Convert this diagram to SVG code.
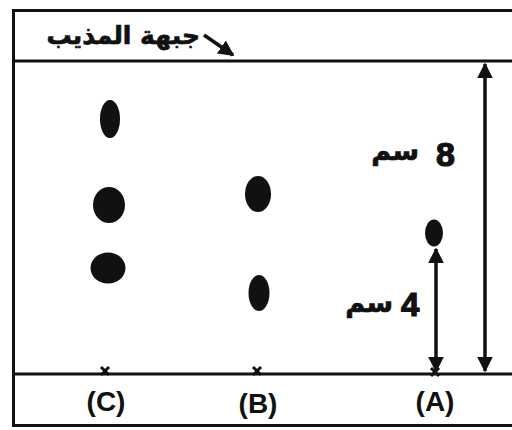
<svg xmlns="http://www.w3.org/2000/svg" width="512" height="430" viewBox="0 0 512 430">
<style>
.ln{stroke:#111;stroke-width:3;fill:none}
.ar{stroke:#111;stroke-width:3.5;fill:none}
.spot{fill:#111}
.lbl{font-family:"Liberation Sans",Arial,sans-serif;font-weight:bold;fill:#111}
.ar-t{font-family:"DejaVu Sans","Noto Sans",sans-serif;font-weight:bold;fill:#111;text-anchor:end}
.x{stroke:#111;stroke-width:3}
</style>
<defs>
<marker id="ah" viewBox="0 0 10 10" refX="9" refY="5" markerWidth="4.5" markerHeight="4.5" orient="auto-start-reverse" markerUnits="strokeWidth">
<path d="M0,0 L10,5 L0,10 Z" fill="#111"/>
</marker>
</defs>
<rect width="512" height="430" fill="#fff"/>
<g id="frame">
<rect class="ln" x="13.5" y="10.5" width="520" height="415"/>
<line class="ln" x1="13" y1="61" x2="512" y2="61"/>
<line class="ln" x1="13" y1="374" x2="512" y2="374"/>
</g>
<g id="title">
<text class="ar-t" x="200" y="44" font-size="25" stroke="#111" stroke-width="0.7">جبهة المذيب</text>
</g>
<g id="connectors">
<line class="ar" x1="204" y1="35" x2="233" y2="55" stroke-width="2.5" marker-end="url(#ah)"/>
<line class="ar" x1="485" y1="64" x2="485" y2="371" marker-start="url(#ah)" marker-end="url(#ah)"/>
<line class="ar" x1="436" y1="249" x2="436" y2="371" marker-start="url(#ah)" marker-end="url(#ah)"/>
</g>
<g id="spot-C">
<ellipse class="spot" cx="110" cy="119" rx="10" ry="19"/>
<ellipse class="spot" cx="109" cy="205" rx="16" ry="18"/>
<ellipse class="spot" cx="108" cy="268" rx="17.5" ry="15.5"/>
<line class="x" x1="101" y1="367" x2="109" y2="375"/><line class="x" x1="109" y1="367" x2="101" y2="375"/>
<text class="lbl" x="106" y="411" font-size="28" text-anchor="middle">(C)</text>
</g>
<g id="spot-B">
<ellipse class="spot" cx="258" cy="194" rx="13" ry="18"/>
<ellipse class="spot" cx="259" cy="293" rx="10.5" ry="18"/>
<line class="x" x1="253" y1="367" x2="261" y2="375"/><line class="x" x1="261" y1="367" x2="253" y2="375"/>
<text class="lbl" x="258" y="413" font-size="28" text-anchor="middle">(B)</text>
</g>
<g id="spot-A">
<ellipse class="spot" cx="434" cy="233" rx="9" ry="13.5"/>
<line class="x" x1="431" y1="368" x2="439" y2="376"/><line class="x" x1="439" y1="368" x2="431" y2="376"/>
<text class="lbl" x="435" y="411" font-size="28" text-anchor="middle">(A)</text>
</g>
<g id="label-8">
<text class="lbl" x="436" y="166" font-size="34" stroke="#111" stroke-width="1.2">8</text>
<text class="ar-t" x="419" y="160" font-size="27" stroke="#111" stroke-width="0.7">سم</text>
</g>
<g id="label-4">
<text class="lbl" x="401" y="316" font-size="33" stroke="#111" stroke-width="1.2">4</text>
<text class="ar-t" x="393" y="312" font-size="27" stroke="#111" stroke-width="0.7">سم</text>
</g>
</svg>
